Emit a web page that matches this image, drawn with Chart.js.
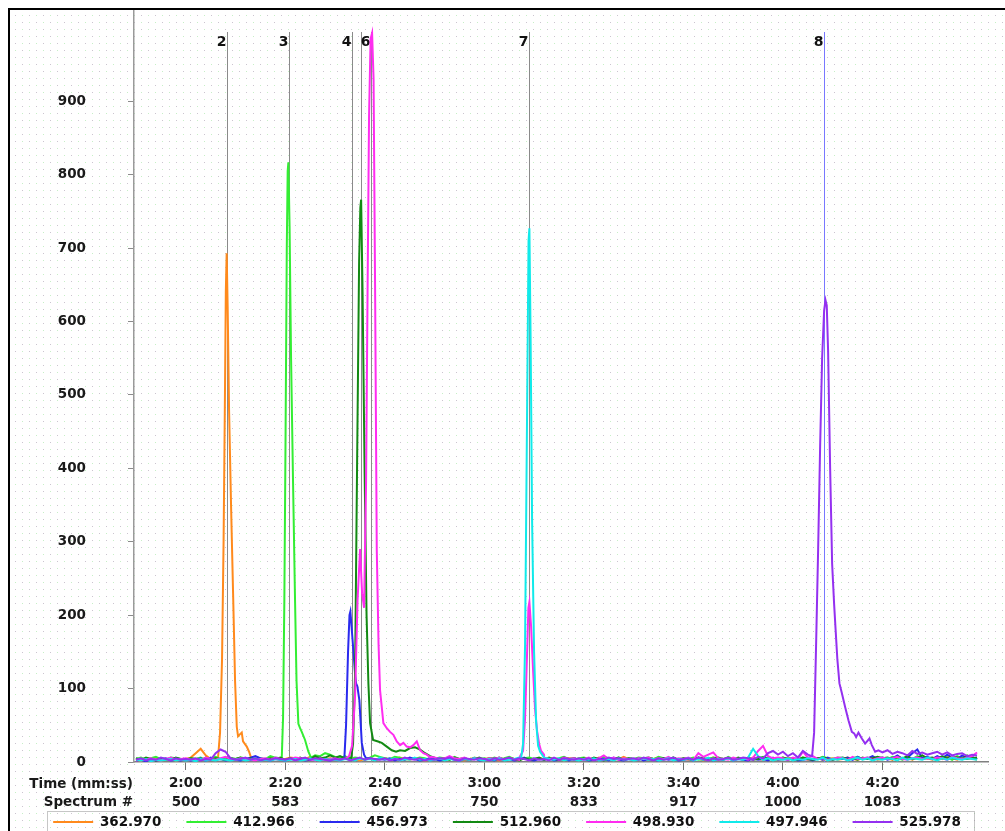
<!DOCTYPE html>
<html>
<head>
<meta charset="utf-8">
<script src="https://cdn.jsdelivr.net/npm/chart.js@4.4.1/dist/chart.umd.min.js"></script>
<style>
  html, body { margin: 0; padding: 0; background: #fff; }
  #wrap { width: 1005px; height: 831px; position: relative; }
</style>
</head>
<body>
<div id="wrap"><canvas id="chromChart"></canvas></div>
<script>
// scan times in seconds (x axis), baseline sampled once per second
const scanTimes = [
  110,111,112,113,114,115,116,117,118,119,
  120,121,122,123,124,125,126,127,128,129,
  130,131,132,133,134,135,136,137,138,139,
  140,141,142,143,144,145,146,147,148,149,
  150,151,152,153,154,155,156,157,158,159,
  160,161,162,163,164,165,166,167,168,169,
  170,171,172,173,174,175,176,177,178,179,
  180,181,182,183,184,185,186,187,188,189,
  190,191,192,193,194,195,196,197,198,199,
  200,201,202,203,204,205,206,207,208,209,
  210,211,212,213,214,215,216,217,218,219,
  220,221,222,223,224,225,226,227,228,229,
  230,231,232,233,234,235,236,237,238,239,
  240,241,242,243,244,245,246,247,248,249,
  250,251,252,253,254,255,256,257,258,259,
  260,261,262,263,264,265,266,267,268,269,
  270,271,272,273,274,275,276,277,278,279
];

const seriesNames = ['362.970', '412.966', '456.973', '512.960', '498.930', '497.946', '525.978'];
const seriesColors = ['#ff8a1c', '#33ee33', '#2a2aee', '#138a13', '#ff2cf0', '#10eaea', '#9430f0'];

// baseline intensities, one per scan time
const base362970 = [
  3,2,4,3,5,2,3,4,2,3, 4,6,12,18,9,4,3,5,5,5, 5,5,5,5,6,4,3,5,4,3, 4,6,5,3,4,7,5,3,4,5,
  3,4,6,5,3,2,4,5,3,4, 5,3,4,6,4,3,5,4,2,3, 4,3,5,4,6,3,2,4,5,3, 4,5,3,2,4,6,4,3,5,4,
  3,5,4,6,3,4,2,5,4,3, 5,4,3,6,4,5,3,4,7,4, 3,4,5,3,4,6,3,5,4,3, 4,3,5,4,2,4,6,3,4,5,
  3,5,4,3,6,4,3,5,4,3, 4,6,3,4,5,3,4,5,3,4, 5,3,4,6,4,3,5,4,6,3, 4,5,3,7,4,5,3,6,4,5,
  3,6,4,8,5,3,6,4,5,3
];
const base412966 = [
  4,6,3,5,7,4,3,6,5,4, 3,5,4,6,3,5,7,4,6,5, 4,6,5,3,7,5,4,8,6,5, 5,5,5,5,5,5,9,8,12,10,
  7,5,8,4,6,5,3,6,9,7, 5,4,7,6,3,5,4,6,5,3, 4,6,5,3,7,4,5,3,6,4, 5,3,6,4,5,7,4,3,5,6,
  4,5,3,6,4,5,7,4,3,5, 6,4,5,3,7,5,4,6,3,5, 4,6,5,3,4,7,5,4,6,3, 5,4,6,3,5,4,6,5,3,7,
  4,5,3,6,4,5,7,3,5,4, 6,3,5,4,6,5,3,4,7,5, 4,6,5,3,5,7,4,6,3,5, 6,4,7,5,3,6,4,8,5,6,
  4,7,5,6,3,8,5,4,6,4
];
const base456973 = [
  2,3,1,4,2,3,5,2,3,2, 4,2,3,5,2,6,3,4,2,3, 3,2,4,6,8,5,3,2,4,3, 2,4,3,5,2,3,4,6,3,2,
  4,3,5,5,5,5,5,5,3,4, 3,5,2,4,3,6,4,2,3,5, 4,2,3,5,3,2,4,3,5,2, 3,4,2,5,3,4,2,3,6,3,
  2,4,3,5,2,3,4,2,5,3, 4,2,3,5,4,2,6,3,2,4, 3,5,2,4,3,2,5,3,4,2, 3,4,2,6,3,5,2,4,3,5,
  2,4,3,2,5,3,4,2,6,3, 4,3,5,2,3,4,2,5,3,6, 3,5,4,6,3,7,4,5,8,4, 6,3,5,9,4,6,12,17,5,7,
  4,8,5,10,6,4,9,5,7,4
];
const base512960 = [
  5,3,6,4,2,5,4,3,6,4, 3,5,4,2,6,3,5,4,3,5, 4,6,3,5,2,4,3,5,4,6, 3,5,4,6,3,4,8,5,6,9,
  6,8,5,5,5,5,5,5,5,5, 5,5,5,5,5,5,5,5,5,5, 6,4,5,3,6,4,5,3,4,6, 3,5,4,6,3,5,4,2,5,3,
  4,6,3,5,4,3,6,4,5,3, 5,3,6,4,2,5,4,6,3,5, 4,3,5,6,4,3,5,4,6,3, 5,4,3,6,5,3,4,6,4,5,
  3,6,4,5,3,4,6,5,3,4, 6,4,5,3,6,4,3,5,6,4, 3,5,6,4,5,3,6,4,5,7, 5,6,4,7,5,8,4,6,9,5,
  6,4,8,5,7,6,4,9,5,6
];
const base498930 = [
  2,4,3,5,3,2,4,6,3,4, 5,3,4,2,6,4,3,5,7,4, 3,5,4,3,2,4,5,3,6,4, 3,4,6,5,3,4,2,5,3,4,
  5,3,4,5,5,5,5,5,5,5, 5,5,5,5,5,5,5,5,5,7, 6,4,5,8,5,4,6,3,5,4, 3,5,4,6,3,5,4,3,5,5,
  5,5,6,4,5,3,6,4,5,3, 4,6,3,5,9,4,6,3,5,4, 3,5,4,6,3,5,4,7,3,5, 4,6,3,12,7,10,13,5,4,3,
  6,4,5,3,6,15,22,8,5,6, 5,3,6,4,14,6,8,4,5,3, 4,6,5,3,7,4,5,6,3,5, 6,4,5,7,4,3,5,6,4,5,
  4,6,5,3,7,5,4,6,8,13
];
const base497946 = [
  3,2,4,1,3,2,3,4,2,3, 2,3,1,4,2,3,2,4,3,2, 3,4,2,3,5,2,3,2,4,3, 2,3,4,2,3,5,3,2,4,3,
  3,2,4,3,2,5,3,4,2,6, 4,3,5,2,4,3,6,3,4,2, 3,5,2,4,3,2,4,3,5,3, 2,4,3,5,2,3,4,6,8,10,
  10,8,6,4,3,5,2,4,3,2, 4,3,5,2,3,4,2,5,3,4, 2,3,5,3,4,2,3,5,2,4, 3,5,2,4,3,6,2,4,3,5,
  2,4,3,6,18,8,3,5,2,4, 3,5,2,4,3,5,4,3,6,2, 4,3,5,2,4,6,3,5,2,4, 3,5,4,2,6,3,5,4,3,6,
  4,2,5,3,6,4,3,5,4,3
];
const base525978 = [
  3,5,2,4,3,6,4,2,5,3, 4,3,5,2,4,3,12,17,14,5, 3,4,6,3,5,2,4,3,5,4, 3,5,2,4,6,3,5,4,3,2,
  4,3,5,2,4,6,3,5,4,3, 5,2,4,3,6,4,3,5,2,4, 3,5,4,6,3,2,5,4,3,5, 4,2,5,3,4,6,3,5,4,2,
  5,3,4,2,6,3,5,4,3,5, 3,5,2,4,3,6,4,5,3,4, 5,3,6,4,2,5,3,4,6,3, 4,5,3,6,4,2,5,3,4,6,
  3,4,6,5,3,7,5,12,15,10, 14,8,12,6,15,10,8,8,8,8, 8,8,8,8,8,8,8,8,8,8, 13,16,11,14,12,9,15,11,13,10,
  12,14,10,13,9,11,12,8,10,9
];

// peak segments: [time (s), intensity]
const peaks362970 = [[
  [126.49,6],[126.89,40],[127.29,140],[127.6,300],[127.85,480],[128.05,640],[128.22,693],[128.42,620],[128.7,480],
  [129.1,350],[129.51,230],[129.91,110],[130.25,48],[130.51,35],[130.77,37],[131.25,40],[131.51,28],
  [132.26,21],[132.72,14],[133.12,6]
]];
const peaks412966 = [[
  [139.29,5],[139.55,60],[139.81,220],[140.06,450],[140.3,700],[140.48,805],[140.62,817],[140.86,730],[141.16,550],
  [141.56,380],[141.96,220],[142.26,110],[142.63,52],[142.97,46],[143.31,41],[143.97,30],[144.64,14],[145.18,6]
]];
const peaks456973 = [[
  [151.87,5],[152.21,50],[152.61,150],[152.9,200],[153.08,205],[153.42,175],[153.68,152],[154.02,120],[154.22,107],
  [154.48,103],[154.89,84],[155.37,26],[155.83,10],[156.23,5]
]];
const peaks512960 = [[
  [153.22,5],[153.62,25],[154.02,120],[154.42,400],[154.83,680],[155.08,755],[155.24,766],[155.53,640],[155.93,400],
  [156.33,200],[156.7,107],[157.04,53],[157.64,30],[158.64,28],[159.39,26],[160.39,21],[161.4,16],
  [162.26,14],[163.07,16],[164.07,15],[165.08,19],[166.08,20],[167.09,17],[168.09,12],[169.1,8]
]];
const peaks498930 = [[
  [152.82,8],[153.42,22],[154.02,90],[154.52,220],[155.03,290],[155.43,230],[155.83,210],[156.23,380],
  [156.53,640],[156.83,880],[157.14,985],[157.44,993],[157.74,930],[158.04,650],[158.38,289],[158.74,160],[159.04,98],
  [159.71,53],[160.39,46],[161.05,41],[161.72,37],[162.4,28],[163.07,23],[163.73,26],[164.4,21],
  [165.08,20],[165.74,23],[166.42,28],[167.09,16],[167.75,12],[168.43,10]
], [
  [187.18,8],[187.78,15],[188.18,60],[188.59,150],[188.85,210],[189.05,218],[189.39,185],[189.79,125],[190.19,72],
  [190.6,42],[191.0,25],[191.4,15],[191.99,10]
]];
const peaks497946 = [[
  [187.38,5],[187.78,25],[188.18,160],[188.59,480],[188.88,710],[189.05,727],[189.29,580],[189.59,330],[189.99,150],
  [190.4,55],[190.8,22],[191.2,14],[191.8,8]
]];
const peaks525978 = [[
  [245.86,8],[246.26,40],[246.66,160],[247.07,290],[247.47,430],[247.87,550],[248.27,615],[248.55,629],[248.8,622],
  [249.07,560],[249.48,400],[249.88,270],[250.28,215],[250.58,180],[250.94,139],[251.35,107],[251.83,94],
  [252.49,75],[253.16,57],[253.84,41],[254.3,39],[254.7,34],[255.17,40],[255.85,32],[256.51,25],
  [257.38,32],[257.86,23],[258.52,14],[259.18,16]
]];

// peak markers
const markerTimes = [128.24, 140.7, 153.48, 155.17, 157.24, 189.05, 248.33];
const markerLabels = ['2', '3', '4', '', '6', '7', '8'];
const markerColors = ['#8a8a8a', '#8a8a8a', '#8a8a8a', '#8a8a8a', '#8a8a8a', '#8a8a8a', '#7878ff'];

// axis ticks
const timeTicks = [120, 140, 160, 180, 200, 220, 240, 260];
const timeLabels = ['2:00', '2:20', '2:40', '3:00', '3:20', '3:40', '4:00', '4:20'];
const spectrumLabels = ['500', '583', '667', '750', '833', '917', '1000', '1083'];
const yTicks = [0, 100, 200, 300, 400, 500, 600, 700, 800, 900];

const FONT = 'DejaVu Sans';
const TEXT_SIZE = 13.5;

function buildTrace(base, segments) {
  const pts = scanTimes
    .map((t, i) => ({ x: t, y: base[i] }))
    .filter(p => !segments.some(seg => p.x >= seg[0][0] && p.x <= seg[seg.length - 1][0]));
  segments.forEach(seg => seg.forEach(([t, v]) => pts.push({ x: t, y: v })));
  return pts.sort((a, b) => a.x - b.x);
}

const traces = [
  buildTrace(base362970, peaks362970),
  buildTrace(base412966, peaks412966),
  buildTrace(base456973, peaks456973),
  buildTrace(base512960, peaks512960),
  buildTrace(base498930, peaks498930),
  buildTrace(base497946, peaks497946),
  buildTrace(base525978, peaks525978)
];

function dotPattern(ctx) {
  const tile = document.createElement('canvas');
  tile.width = 14;
  tile.height = 14;
  const t = tile.getContext('2d');
  t.fillStyle = '#ffffff';
  t.fillRect(0, 0, 14, 14);
  t.fillStyle = '#cbc4cf';
  t.fillRect(1, 1, 1, 1);
  t.fillRect(8, 8, 1, 1);
  t.fillStyle = '#c6f0c6';
  t.fillRect(8, 1, 1, 1);
  t.fillRect(1, 8, 1, 1);
  return ctx.createPattern(tile, 'repeat');
}

const backdrop = {
  id: 'backdrop',
  beforeDraw(chart) {
    const { ctx, width, height } = chart;
    ctx.save();
    ctx.fillStyle = '#fff';
    ctx.fillRect(0, 0, width, height);
    ctx.fillStyle = dotPattern(ctx);
    ctx.fillRect(10, 10, width - 10, height - 10);
    ctx.strokeStyle = '#000';
    ctx.lineWidth = 2;
    ctx.beginPath();
    ctx.moveTo(9, height);
    ctx.lineTo(9, 9);
    ctx.lineTo(width, 9);
    ctx.stroke();
    ctx.restore();
  }
};

const peakMarkers = {
  id: 'peakMarkers',
  beforeDatasetsDraw(chart) {
    const { ctx, chartArea, scales: { x } } = chart;
    ctx.save();
    ctx.font = 'bold 14px "' + FONT + '"';
    ctx.textAlign = 'right';
    ctx.textBaseline = 'middle';
    markerTimes.forEach((t, i) => {
      const px = Math.round(x.getPixelForValue(t)) + 0.5;
      ctx.strokeStyle = markerColors[i];
      ctx.lineWidth = 1;
      ctx.beginPath();
      ctx.moveTo(px, chartArea.top + 21);
      ctx.lineTo(px, chartArea.bottom);
      ctx.stroke();
      ctx.fillStyle = '#111';
      ctx.fillText(markerLabels[i], px - 1, chartArea.top + 31);
    });
    ctx.restore();
  }
};

const extraText = {
  id: 'extraText',
  afterDraw(chart) {
    const { ctx, chartArea, height, scales: { x } } = chart;
    ctx.save();
    ctx.font = 'bold ' + TEXT_SIZE + 'px "' + FONT + '"';
    ctx.fillStyle = '#1a1a1a';
    ctx.textBaseline = 'middle';
    ctx.textAlign = 'right';
    ctx.fillText('Time (mm:ss)', chartArea.left - 1, chartArea.bottom + 22);
    ctx.fillText('Spectrum #', chartArea.left - 1, chartArea.bottom + 40);
    // second row of x labels: spectrum numbers under the time ticks
    ctx.textAlign = 'center';
    timeTicks.forEach((t, i) => {
      ctx.fillText(spectrumLabels[i], x.getPixelForValue(t), chartArea.bottom + 40);
    });
    // legend frame
    ctx.strokeStyle = '#8c8c8c';
    ctx.lineWidth = 1;
    ctx.setLineDash([1, 1]);
    ctx.strokeRect(chartArea.left - 86.5, height - 19.5, (chartArea.right - 14) - (chartArea.left - 87), 24);
    ctx.restore();
  }
};

new Chart(document.getElementById('chromChart'), {
  type: 'line',
  data: {
    datasets: seriesNames.map((name, i) => ({
      label: name,
      data: traces[i],
      borderColor: seriesColors[i],
      backgroundColor: seriesColors[i],
      borderWidth: 2,
      pointRadius: 0,
      tension: 0,
      fill: false,
      order: seriesNames.length - i
    }))
  },
  options: {
    responsive: true,
    maintainAspectRatio: false,
    animation: false,
    layout: { padding: { left: 9, right: 0, top: 11, bottom: -7.75 } },
    plugins: {
      legend: {
        position: 'bottom',
        labels: {
          usePointStyle: true,
          pointStyle: 'line',
          pointStyleWidth: 40,
          boxHeight: 13,
          padding: 25,
          color: '#111',
          font: { family: FONT, size: TEXT_SIZE, weight: 'bold' },
          sort: (a, b) => a.datasetIndex - b.datasetIndex
        }
      },
      tooltip: { enabled: false }
    },
    scales: {
      x: {
        type: 'linear',
        min: 109.6,
        max: 281.2,
        afterBuildTicks: axis => { axis.ticks = timeTicks.map(v => ({ value: v })); },
        afterFit: axis => { axis.height = 28.25; axis.paddingLeft = 0; axis.paddingRight = 0; },
        grid: { drawOnChartArea: false, drawTicks: true, tickLength: 8, color: '#707070' },
        border: { display: true, color: '#808080', width: 1.5 },
        ticks: {
          autoSkip: false,
          maxRotation: 0,
          padding: 5,
          color: '#1a1a1a',
          font: { family: FONT, size: TEXT_SIZE, weight: 'bold' },
          callback: v => {
            const i = timeTicks.indexOf(v);
            return i < 0 ? '' : timeLabels[i];
          }
        }
      },
      y: {
        min: 0,
        max: 1023,
        afterBuildTicks: axis => { axis.ticks = yTicks.map(v => ({ value: v })); },
        afterFit: axis => { axis.width = 125; axis.paddingTop = 0; axis.paddingBottom = 0; },
        grid: { drawOnChartArea: false, drawTicks: true, tickLength: 6, color: '#8c8c8c' },
        border: { display: true, color: '#9a9a9a', width: 1.5 },
        ticks: {
          padding: 42,
          color: '#1a1a1a',
          font: { family: FONT, size: TEXT_SIZE, weight: 'bold' }
        }
      },
      yRightPad: {
        position: 'right',
        display: true,
        grid: { display: false },
        border: { display: false },
        ticks: { display: false },
        afterFit: axis => { axis.width = 17; axis.paddingTop = 0; axis.paddingBottom = 0; }
      }
    }
  },
  plugins: [backdrop, peakMarkers, extraText]
});
</script>
</body>
</html>
